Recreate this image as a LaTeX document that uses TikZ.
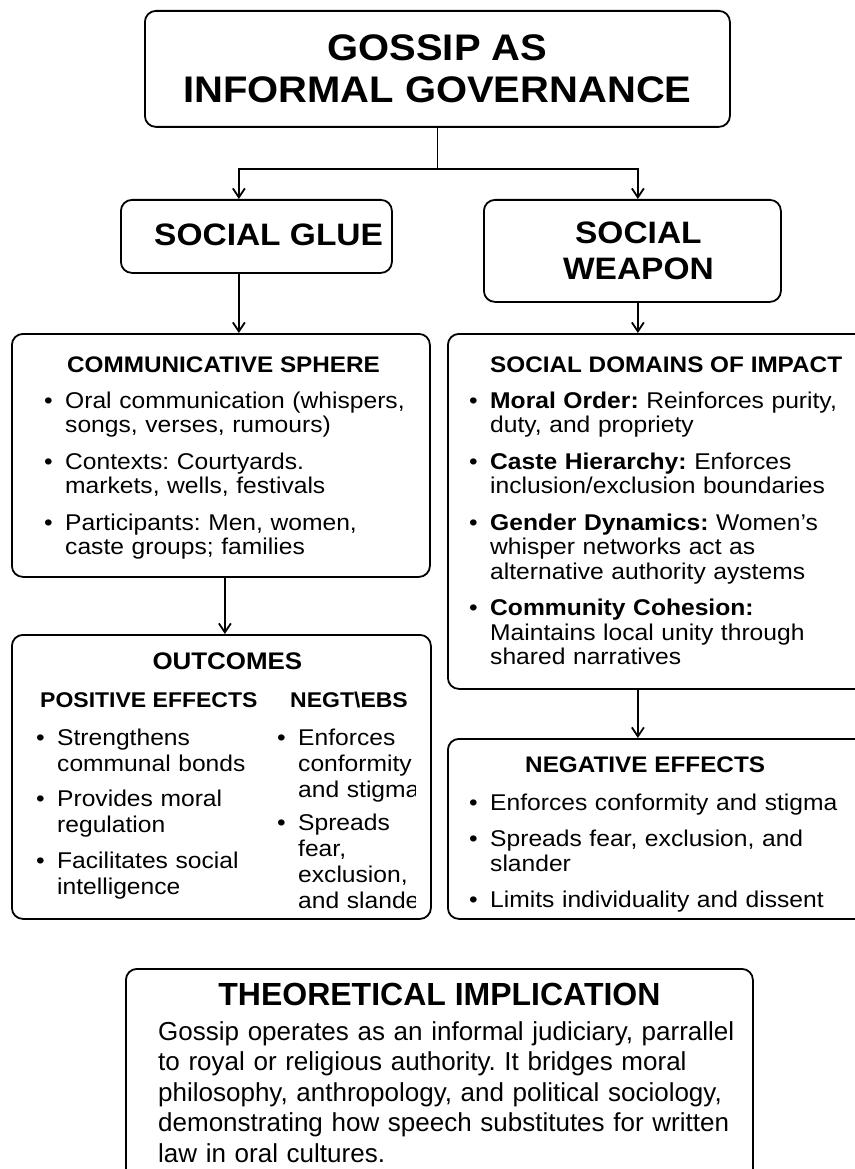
\documentclass[tikz,border=0pt]{standalone}
\usepackage{fontspec}
\setmainfont{Liberation Sans}[FakeStretch=1.08]
\newfontfamily\plainsans{Liberation Sans}
\usepackage{tikz}
\usetikzlibrary{arrows.meta, positioning}
\frenchspacing
\newcommand{\fsz}[2]{\fontsize{#1}{#2}\selectfont}
\newcommand{\bul}[2][12pt]{\hangindent=21pt\hangafter=1\noindent\makebox[21pt][l]{•}#2\par\vspace{#1}}

\begin{document}
\begin{tikzpicture}[
  x=1pt, y=-1pt,
  panel/.style={
    draw=black,
    line width=1.8pt,
    rounded corners=11pt,
    anchor=north west,
    inner sep=0pt
  },
  bigcaps/.style={font=\bfseries\fsz{37}{42}, align=center},
  midcaps/.style={font=\bfseries\fsz{31}{36}, align=center, inner sep=0pt},
  head/.style={font=\bfseries\fsz{22.5}{26}, inner sep=0pt, anchor=base west},
  subhead/.style={font=\bfseries\fsz{21.3}{24}, inner sep=0pt, anchor=base west},
  bodylist/.style={font=\fsz{22.8}{24.5}, inner sep=0pt, anchor=base west,
    text width=#1, align=left},
  flow/.style={-{Straight Barb[length=9pt,width=12pt]}, line width=1.8pt, draw=black}
]
\useasboundingbox (0,0) rectangle (854,1169);

\node[panel, bigcaps, minimum width=585pt, minimum height=116pt] (gossip) at (144,10)
{GOSSIP AS\\INFORMAL GOVERNANCE};

\node[panel, minimum width=271pt, minimum height=73pt] (glue) at (120,199) {};
\node[midcaps, anchor=base west] (gluetxt) at ([xshift=34pt,yshift=-46pt]glue.north west) {SOCIAL GLUE};

\node[panel, minimum width=297pt, minimum height=102pt] (weapon) at (483,199) {};
\node[midcaps] (weapontxt) at ([xshift=6pt]weapon.center) {SOCIAL\\WEAPON};

% left column
\node[panel, minimum width=418pt, minimum height=243pt] (comm) at (11,333) {};
\node[head] (commhead) at ([xshift=56pt,yshift=-39pt]comm.north west) {COMMUNICATIVE SPHERE};
\node[bodylist=380pt] (commlist) at ([xshift=33pt,yshift=-75pt]comm.north west) {%
\bul{Oral communication (whispers,\newline songs, verses, rumours)}%
\bul{Contexts: Courtyards.\newline markets, wells, festivals}%
\bul{Participants: Men, women,\newline caste groups; families}};

\node[panel, minimum width=419pt, minimum height=284pt] (outcomes) at (11,634) {};
\node[head, font=\bfseries\fsz{24}{26}, anchor=base] (outhead) at ([xshift=6pt,yshift=-35pt]outcomes.north) {OUTCOMES};
\node[subhead] (poshead) at ([xshift=29pt,yshift=-73pt]outcomes.north west) {POSITIVE EFFECTS};
\node[subhead] (neghead) at ([xshift=279pt,yshift=-73pt]outcomes.north west) {NEGT\textbackslash EBS};
\node[bodylist=230pt, font=\fsz{22.8}{26}] (poslist) at ([xshift=25pt,yshift=-111pt]outcomes.north west) {%
\bul[9.5pt]{Strengthens\newline communal bonds}%
\bul[9.5pt]{Provides moral\newline regulation}%
\bul[9.5pt]{Facilitates social\newline intelligence}};
\begin{scope}
\clip (270,690) rectangle (415.5,916);
\node[bodylist=150pt, font=\fsz{22.8}{26}] (neglist) at ([xshift=266pt,yshift=-111pt]outcomes.north west) {%
\bul[7pt]{Enforces\newline conformity\newline and stigma}%
\bul[7pt]{Spreads\newline fear,\newline exclusion,\newline and slande}};
\end{scope}

% right column
\node[panel, minimum width=440pt, minimum height=355pt] (domains) at (447,333) {};
\node[head] (domhead) at ([xshift=43pt,yshift=-39pt]domains.north west) {SOCIAL DOMAINS OF IMPACT};
\node[bodylist=400pt] (domlist) at ([xshift=22pt,yshift=-75pt]domains.north west) {%
\bul{\textbf{Moral Order:} Reinforces purity,\newline duty, and propriety}%
\bul{\textbf{Caste Hierarchy:} Enforces\newline inclusion/exclusion boundaries}%
\bul{\textbf{Gender Dynamics:} Women’s\newline whisper networks act as\newline alternative authority aystems}%
\bul{\textbf{Community Cohesion:}\newline Maintains local unity through\newline shared narratives}};

\node[panel, minimum width=440pt, minimum height=180pt] (negeff) at (447,738) {};
\node[head] (neghd) at ([xshift=78pt,yshift=-34pt]negeff.north west) {NEGATIVE EFFECTS};
\node[bodylist=400pt] (negfx) at ([xshift=22pt,yshift=-72pt]negeff.north west) {%
\bul{Enforces conformity and stigma}%
\bul{Spreads fear, exclusion, and\newline slander}%
\bul{Limits individuality and dissent}};

% bottom
\node[panel, minimum width=627pt, minimum height=240pt] (theory) at (125,968) {};
\node[font=\plainsans\bfseries\fsz{32}{36}, anchor=base, inner sep=0pt] (theohead) at ([yshift=-37pt]theory.north)
{THEORETICAL IMPLICATION};
\node[font=\plainsans\fsz{26}{30.5}, anchor=base west, inner sep=0pt, text width=600pt, align=left] (theobody)
at ([xshift=33pt,yshift=-72pt]theory.north west)
{Gossip operates as an informal judiciary, parrallel\\
to royal or religious authority. It bridges moral\\
philosophy, anthropology, and political sociology,\\
demonstrating how speech substitutes for written\\
law in oral cultures.};

\coordinate (fork) at ([yshift=-41pt]gossip.south);
\draw[line width=1.8pt] (gossip.south) -- (fork);
\draw[flow] (fork) -| ([xshift=-17.5pt]glue.north);
\draw[flow] (fork) -| ([xshift=5.5pt]weapon.north);
\draw[flow] ([xshift=-17.5pt]glue.south) -- ([xshift=18pt]comm.north);
\draw[flow] ([xshift=5.5pt]weapon.south) -- ([xshift=-30pt]domains.north);
\draw[flow] ([xshift=4pt]comm.south) -- ([xshift=3.5pt]outcomes.north);
\draw[flow] ([xshift=-30pt]domains.south) -- ([xshift=-30pt]negeff.north);

\end{tikzpicture}
\end{document}
